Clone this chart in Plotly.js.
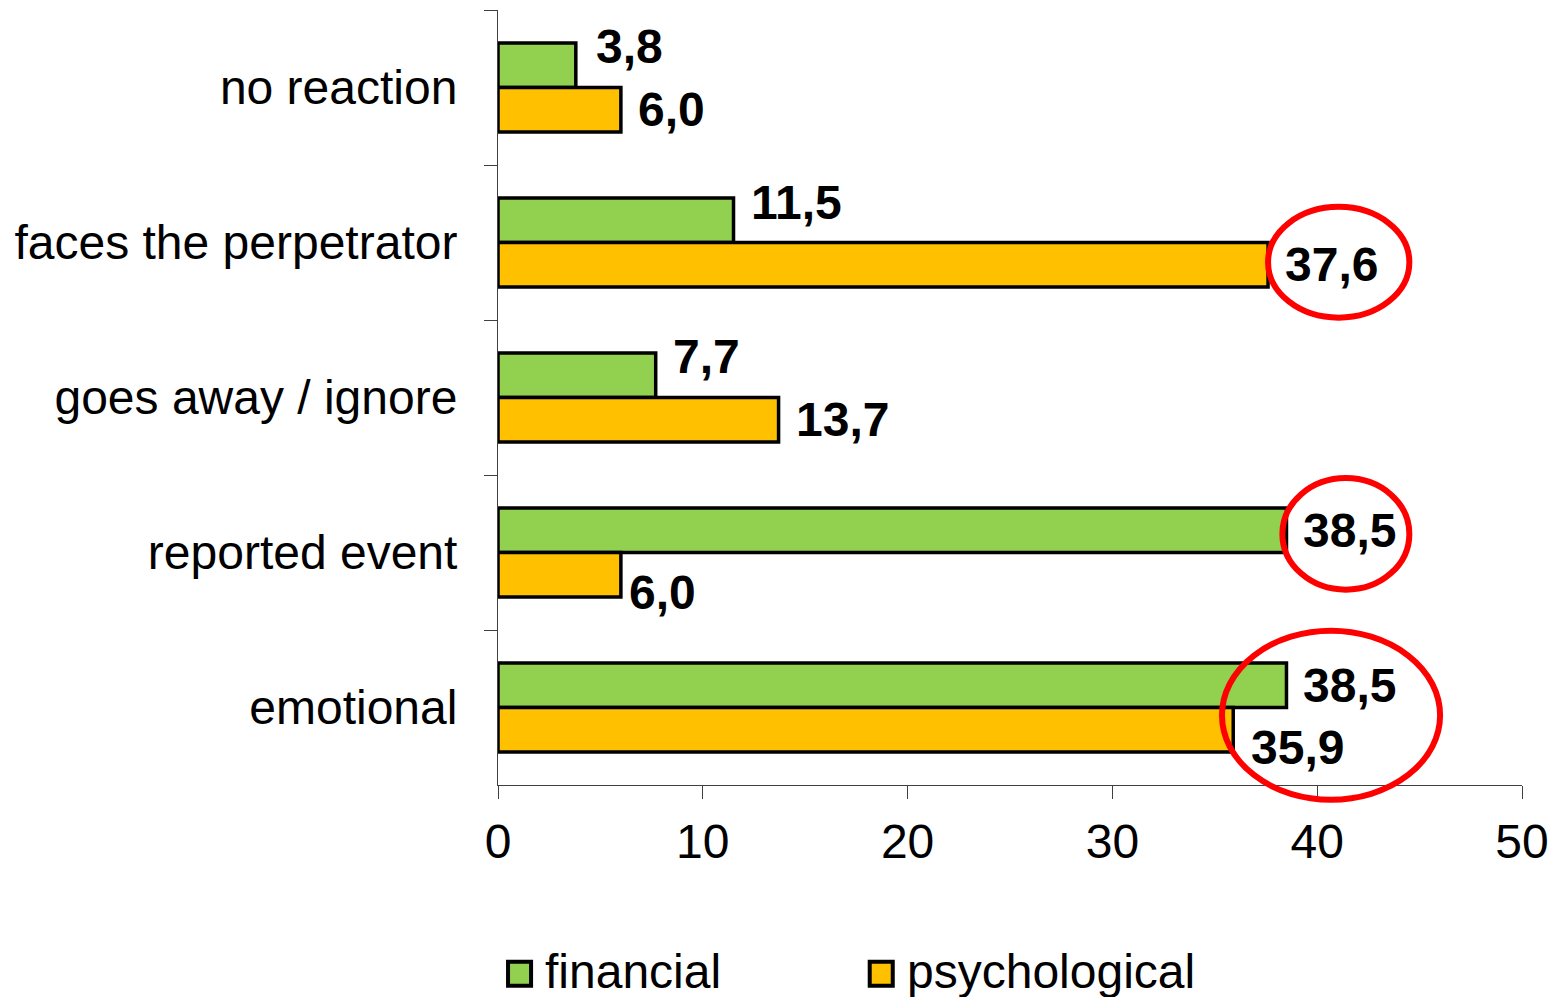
<!DOCTYPE html>
<html>
<head>
<meta charset="utf-8">
<script src="https://cdn.plot.ly/plotly-3.0.1.min.js"></script>
<style>html,body{margin:0;padding:0;background:#fff;}#chart{width:1566px;height:997px;}</style>
</head>
<body>
<div id="chart"></div>
<script>
// ---- data ----
const categories = ["no reaction", "faces the perpetrator", "goes away / ignore", "reported event", "emotional"];
const seriesNames = ["financial", "psychological"];
const financial = [3.8, 11.5, 7.7, 38.5, 38.5];
const psychological = [6.0, 37.6, 13.7, 6.0, 35.9];
const xTicks = [0, 10, 20, 30, 40, 50];

// ---- style ----
const FONT = "Liberation Sans, Arial, sans-serif";
const colors = ["#92D050", "#FFC000"];
const FS = 48;
// label nudges (pixels) per series, per category
const nudgeY = [[19, 18, 19, 0, 0], [0, 0, 0, -18, -18]];
const nudgeX = [[18, 15, 15, 15, 15], [15, 15, 15, 6, 16]];

const series = [financial, psychological];
const traces = series.map((vals, s) => ({
  type: "bar",
  orientation: "h",
  name: seriesNames[s],
  y: categories,
  x: vals,
  marker: { color: colors[s], line: { color: "#000", width: 3.5 } },
  hoverinfo: "x+y",
  showlegend: false
}));

const bw = (1 - 0.425) / 2;
const annotations = [];
series.forEach((vals, s) => {
  vals.forEach((v, i) => {
    annotations.push({
      xref: "x", yref: "y",
      x: v, y: i + (s === 0 ? -bw / 2 : bw / 2),
      text: "<b>" + v.toFixed(1).replace(".", ",") + "</b>",
      showarrow: false, xanchor: "left", yanchor: "middle",
      xshift: nudgeX[s][i], yshift: nudgeY[s][i],
      font: { family: FONT, size: FS, color: "#000" }
    });
  });
});

// legend (drawn manually for large swatches)
const legX = [0.0098, 0.363];
const shapes = [];
seriesNames.forEach((n, s) => {
  shapes.push({
    type: "rect", xref: "paper", yref: "paper",
    x0: legX[s], x1: legX[s] + 0.0225, y0: -0.259, y1: -0.228,
    fillcolor: colors[s], line: { color: "#000", width: 4 }
  });
  annotations.push({
    xref: "paper", yref: "paper", x: legX[s] + 0.034, y: -0.2405,
    xanchor: "left", yanchor: "middle", showarrow: false,
    text: n, font: { family: FONT, size: FS, color: "#000" }
  });
});

// red highlight ellipses
const ellipses = [
  { x0: 37.6, x1: 44.5, y0: 0.603, y1: 0.746 },
  { x0: 38.3, x1: 44.5, y0: 0.252, y1: 0.396 },
  { x0: 35.35, x1: 46.0, y0: -0.019, y1: 0.199 }
];
ellipses.forEach(e => shapes.push({
  type: "circle", xref: "x", yref: "paper",
  x0: e.x0, x1: e.x1, y0: e.y0, y1: e.y1,
  line: { color: "#FF0000", width: 6 }, layer: "above"
}));

const layout = {
  width: 1566, height: 997,
  margin: { l: 498, r: 44, t: 10, b: 212 },
  paper_bgcolor: "#fff", plot_bgcolor: "#fff",
  barmode: "group", bargap: 0.425, bargroupgap: 0,
  font: { family: FONT, color: "#000" },
  xaxis: {
    range: [0, 50], tickvals: xTicks, ticktext: xTicks.map(String),
    showgrid: false, zeroline: false, showline: true, linecolor: "#404040", linewidth: 1,
    ticks: "outside", ticklen: 13, tickcolor: "#404040", tickwidth: 1,
    tickfont: { family: FONT, size: FS, color: "#000" }, ticklabelstandoff: 1,
    fixedrange: true
  },
  yaxis: {
    type: "category", categoryorder: "array", categoryarray: categories,
    autorange: "reversed",
    showgrid: false, zeroline: false, showline: true, linecolor: "#404040", linewidth: 1,
    ticks: "outside", tickson: "boundaries", ticklen: 13, tickcolor: "#404040", tickwidth: 1,
    tickfont: { family: FONT, size: FS, color: "#000" }, ticklabelstandoff: 30,
    fixedrange: true
  },
  shapes: shapes,
  annotations: annotations
};

Plotly.newPlot("chart", traces, layout, { displayModeBar: false, staticPlot: true });
</script>
</body>
</html>
